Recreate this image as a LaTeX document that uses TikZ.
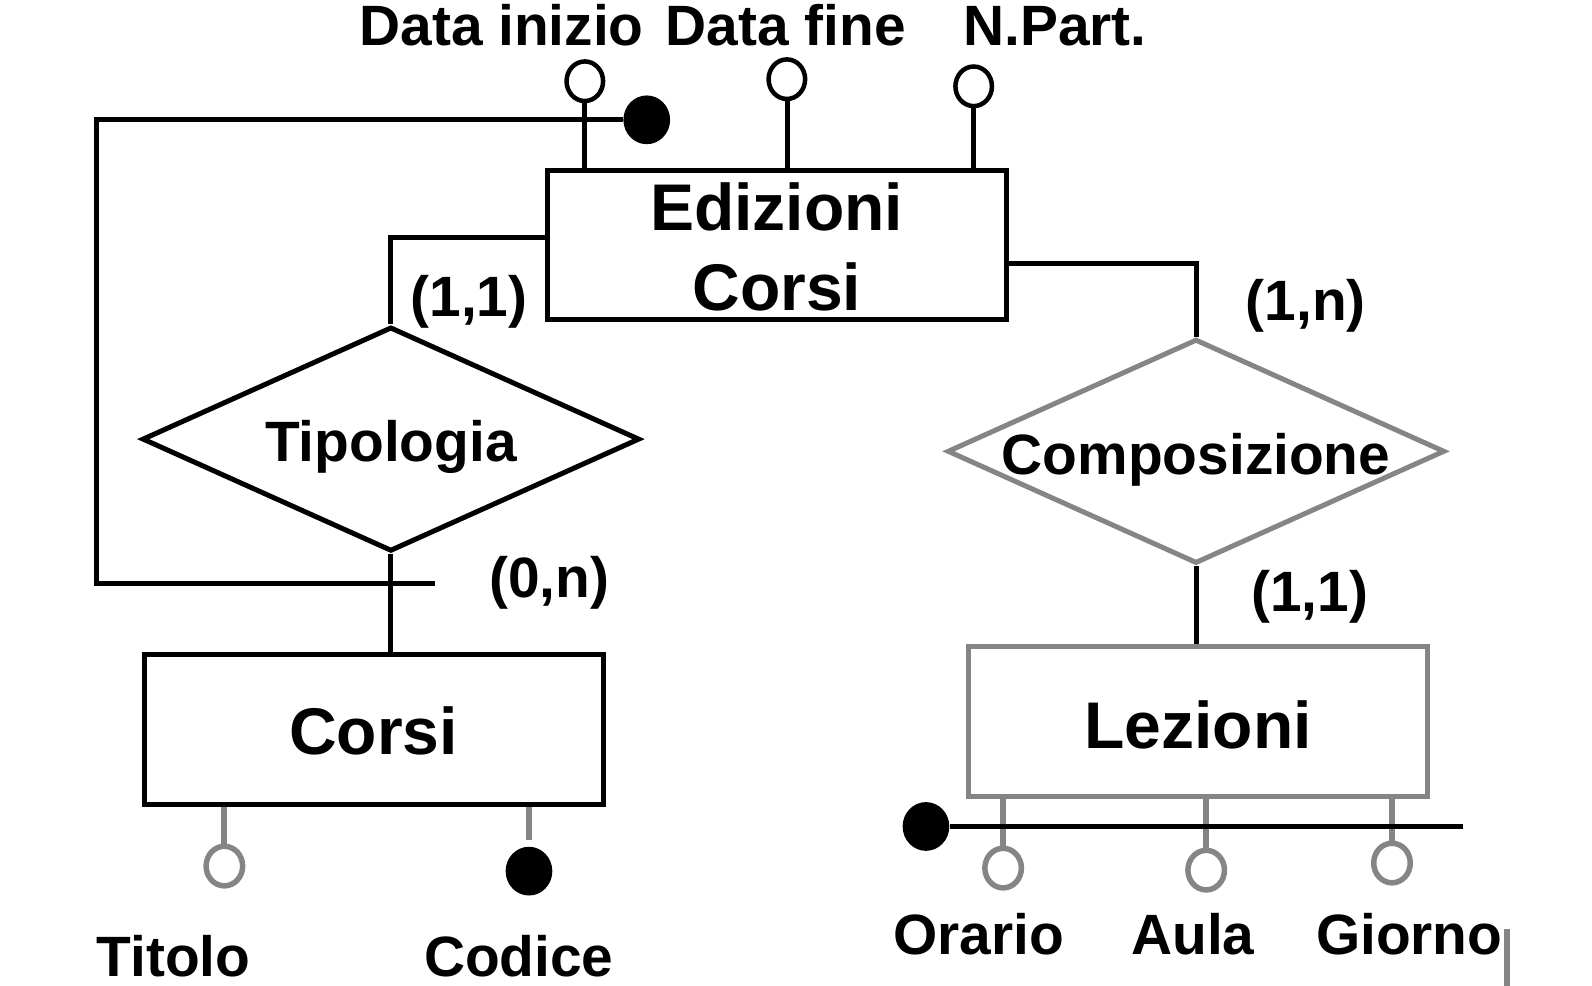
\documentclass[tikz,border=0pt]{standalone}
\usepackage{fontspec}
\setmainfont{Liberation Sans}
\usetikzlibrary{shapes.geometric}
\definecolor{gr}{HTML}{858585}
\tikzset{
  ln/.style={line width=5pt, black},
  gln/.style={line width=6pt, gr},
  ent/.style={draw, line width=5pt, rectangle, minimum width=452pt, minimum height=147pt, inner sep=0pt},
  rel/.style={draw, line width=5pt, diamond, minimum width=490pt, minimum height=221pt, inner sep=0pt},
  attr/.style={draw, ellipse, line width=4.5pt, minimum width=36pt, minimum height=39pt, inner sep=0pt, fill=white},
  gattr/.style={attr, draw=gr, line width=5.5pt},
  keyc/.style={ellipse, fill=black, minimum width=46pt, minimum height=48pt, inner sep=0pt},
  lab/.style={font=\fontsize{56}{60}\selectfont\bfseries, inner sep=0pt, anchor=base},
  big/.style={font=\fontsize{65}{70}\selectfont\bfseries, inner sep=0pt, anchor=base},
}
\begin{document}
\begin{tikzpicture}[x=1pt,y=-1pt,scale=1.0153,transform shape]
\useasboundingbox (0,0) rectangle (1568,971.1);
% entities
\node[ent] (edi) at (765,241) {};
\node[big] (ediT1) at (765,227) {Edizioni};
\node[big] (ediT2) at (765,306) {Corsi};
\node[ent] (cor) at (368.5,718.5) {};
\node[big] (corT) at (368,743) {Corsi};
\node[ent, draw=gr] (lez) at (1179.5,710.5) {};
\node[big] (lezT) at (1180,737) {Lezioni};
% relationships
\node[rel] (tip) at (385,432.5) {};
\node[lab] (tipT) at (385,455) {Tipologia};
\node[rel, draw=gr] (comp) at (1178,444.5) {};
\node[lab] (compT) at (1178,467) {Composizione};
% connectors
\coordinate (e1) at (539,234);
\draw[ln] (tip.north) |- (e1);
\draw[ln] (tip.south) -- (tip.south |- cor.north);
\coordinate (e2) at (991,259);
\draw[ln] (e2) -| (comp.north);
\draw[ln] (comp.south) -- (comp.south |- lez.north);
% cardinalities
\node[lab] (c1) at (462,312) {(1,1)};
\node[lab] (c2) at (541,588) {(0,n)};
\node[lab] (c3) at (1286,316) {(1,n)};
\node[lab] (c4) at (1290,602) {(1,1)};
% external key of Edizioni Corsi
\node[keyc] (kedi) at (637,118) {};
\coordinate (k1) at (95,116);
\coordinate (k2) at (95,577);
\coordinate (k3) at (428,575);
\draw[ln] (kedi.west) -- (kedi.west -| k1) -- (k2 -| k1) -- (k2) |- (k3);
% attributes of Edizioni Corsi
\node[attr] (adi) at (576,80) {};
\node[attr] (adf) at (775,78) {};
\node[attr] (anp) at (959,85) {};
\draw[ln] (adi.south) -- (adi.south |- edi.north);
\draw[ln] (adf.south) -- (adf.south |- edi.north);
\draw[ln] (anp.south) -- (anp.south |- edi.north);
\node[lab] (adiT) at (494,45) {Data inizio};
\node[lab] (adfT) at (774,45) {Data fine};
\node[lab] (anpT) at (1039,45) {N.Part.};
% attributes of Corsi
\node[gattr] (tit) at (221,853) {};
\node[keyc] (cod) at (521,858) {};
\draw[gln] (tit.north |- cor.south) -- (tit.north);
\draw[gln] (cod.north |- cor.south) -- ([yshift=7pt]cod.north);
\node[lab] (titT) at (171,962) {Titolo};
\node[lab] (codT) at (511,962) {Codice};
% attributes of Lezioni
\node[gattr] (ora) at (988,855) {};
\node[gattr] (aul) at (1188,857) {};
\node[gattr] (gio) at (1371,850) {};
\draw[gln] (ora.north |- lez.south) -- (ora.north);
\draw[gln] (aul.north |- lez.south) -- (aul.north);
\draw[gln] (gio.north |- lez.south) -- (gio.north);
\node[keyc] (klez) at (912,814) {};
\coordinate (k4) at (1441,813);
\draw[ln] (klez.east) -- (klez.east -| k4);
\node[lab] (oraT) at (964,940) {Orario};
\node[lab] (aulT) at (1175,940) {Aula};
\node[lab] (gioT) at (1388,940) {Giorno};
\coordinate (s1) at (1484,915);
\coordinate (s2) at (1484,986);
\draw[gln] (s1) -- (s2);
\end{tikzpicture}
\end{document}
